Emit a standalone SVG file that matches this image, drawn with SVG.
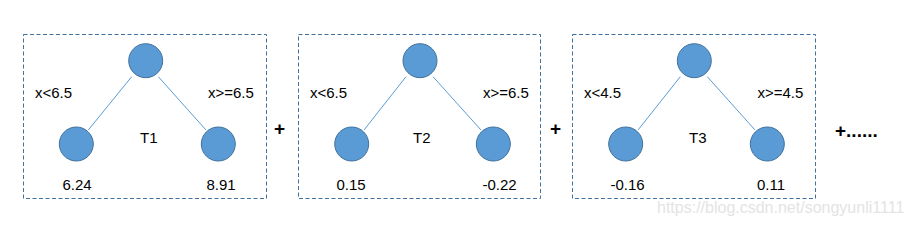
<svg xmlns="http://www.w3.org/2000/svg" width="913" height="225" viewBox="0 0 913 225">
<style>
.box{fill:none;stroke:#41719c;stroke-width:1;stroke-dasharray:4 2.5}
.node{fill:#5b9bd5;stroke:#41719c;stroke-width:1}
.edge{stroke:#5b9bd5;stroke-width:1;fill:none}
.t{font-family:"Liberation Sans",Arial,sans-serif;font-size:15px;fill:#000}
.op{font-family:"Liberation Sans",Arial,sans-serif;font-size:19px;font-weight:bold;fill:#000}
.wm{font-family:"Liberation Sans",Arial,sans-serif;font-size:16px;fill:#e4e4e4}
</style>
<rect width="913" height="225" fill="#fff"/>
<g id="connectors">
<line class="edge" x1="131.7" y1="76.7" x2="88.3" y2="130"/>
<line class="edge" x1="158.3" y1="76.7" x2="206" y2="130"/>
<line class="edge" x1="406" y1="76.7" x2="364" y2="130"/>
<line class="edge" x1="433" y1="76.7" x2="481" y2="130"/>
<line class="edge" x1="680.3" y1="76.7" x2="638" y2="130"/>
<line class="edge" x1="707.3" y1="76.7" x2="755" y2="130"/>
</g>
<g id="tree1">
<rect class="box" x="23.5" y="34.5" width="243" height="164"/>
<text class="t" x="35" y="98">x&lt;6.5</text>
<text class="t" x="208" y="98">x&gt;=6.5</text>
<text class="t" x="140" y="143">T1</text>
<text class="t" x="62.5" y="190">6.24</text>
<text class="t" x="206.5" y="190">8.91</text>
</g>
<g id="t1-root"><circle class="node" cx="145.7" cy="60.7" r="17"/></g>
<g id="t1-left"><circle class="node" cx="76.3" cy="144" r="17"/></g>
<g id="t1-right"><circle class="node" cx="218.3" cy="144" r="17"/></g>
<g id="plus1"><text class="op" x="279.5" y="135" text-anchor="middle">+</text></g>
<g id="tree2">
<rect class="box" x="298.5" y="34.5" width="242" height="164"/>
<text class="t" x="310" y="98">x&lt;6.5</text>
<text class="t" x="483" y="98">x&gt;=6.5</text>
<text class="t" x="413" y="143">T2</text>
<text class="t" x="336.5" y="190">0.15</text>
<text class="t" x="482.5" y="190">-0.22</text>
</g>
<g id="t2-root"><circle class="node" cx="420" cy="60.7" r="17"/></g>
<g id="t2-left"><circle class="node" cx="351.7" cy="144" r="17"/></g>
<g id="t2-right"><circle class="node" cx="493.3" cy="144" r="17"/></g>
<g id="plus2"><text class="op" x="555.5" y="135" text-anchor="middle">+</text></g>
<g id="tree3">
<rect class="box" x="572.5" y="34.5" width="243" height="164"/>
<text class="t" x="584" y="98">x&lt;4.5</text>
<text class="t" x="757.5" y="98">x&gt;=4.5</text>
<text class="t" x="689" y="143">T3</text>
<text class="t" x="610.5" y="190">-0.16</text>
<text class="t" x="757" y="190">0.11</text>
</g>
<g id="t3-root"><circle class="node" cx="694.3" cy="60.7" r="17"/></g>
<g id="t3-left"><circle class="node" cx="625.7" cy="144" r="17"/></g>
<g id="t3-right"><circle class="node" cx="767.3" cy="144" r="17"/></g>
<g id="more"><text class="op" x="835" y="137">+......</text></g>
<text class="wm" x="657" y="213">https://blog.csdn.net/songyunli1111</text>
</svg>
